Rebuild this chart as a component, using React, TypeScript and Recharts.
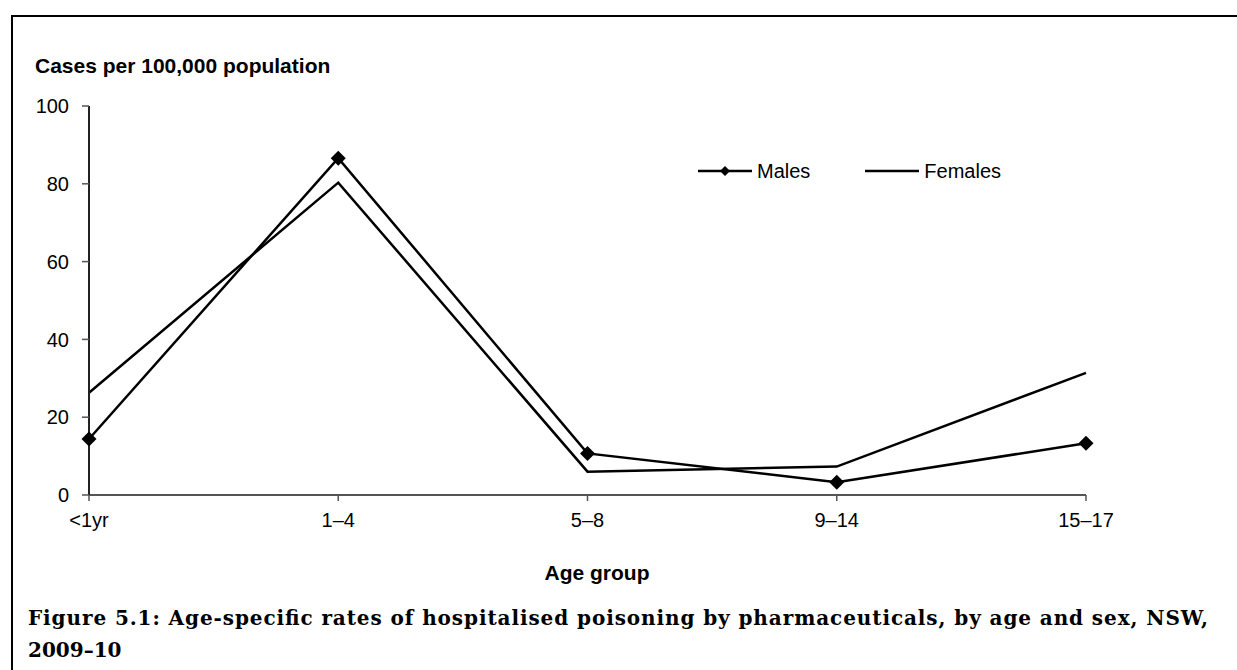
import React from "react";
import { LineChart, Line, XAxis, YAxis, Legend } from "recharts";

const categories = ["<1yr", "1–4", "5–8", "9–14", "15–17"];
const males = [14.4, 86.6, 10.7, 3.3, 13.3];
const females = [26.3, 80.3, 6.0, 7.3, 31.4];
const yTicks = [0, 20, 40, 60, 80, 100];

const data = categories.map((c, i) => ({ age: c, Males: males[i], Females: females[i] }));

const SANS = '"Liberation Sans", Arial, sans-serif';
const SERIF = '"DejaVu Serif", "Liberation Serif", serif';

const Diamond = (props: any) => {
  const { cx, cy } = props;
  if (cx == null || cy == null) return null;
  const r = 7.5;
  return (
    <polygon
      points={`${cx},${cy - r} ${cx + r},${cy} ${cx},${cy + r} ${cx - r},${cy}`}
      fill="#000"
      stroke="none"
    />
  );
};

const LegendContent = () => (
  <div style={{ display: "flex", alignItems: "center", fontFamily: SANS, fontSize: 20, color: "#000", whiteSpace: "nowrap" }}>
    <svg width={54} height={20} style={{ display: "block" }}>
      <line x1={0} y1={10} x2={54} y2={10} stroke="#000" strokeWidth={2.5} />
      <polygon points="27,5 32,10 27,15 22,10" fill="#000" />
    </svg>
    <span style={{ marginLeft: 5, lineHeight: "24px" }}>Males</span>
    <svg width={54} height={20} style={{ display: "block", marginLeft: 55 }}>
      <line x1={0} y1={10} x2={54} y2={10} stroke="#000" strokeWidth={2.5} />
    </svg>
    <span style={{ marginLeft: 5, lineHeight: "24px" }}>Females</span>
  </div>
);

export default function App() {
  return (
    <div style={{ position: "absolute", left: 0, top: 0, width: 1237, height: 670, overflow: "hidden", background: "#fff" }}>
      <div
        style={{
          position: "absolute",
          left: 11,
          top: 15,
          width: 1400,
          height: 800,
          borderLeft: "2px solid #000",
          borderTop: "2px solid #000",
        }}
      />
      <div style={{ position: "absolute", left: 0, top: 0 }}>
        <LineChart
          width={1237}
          height={670}
          data={data}
          margin={{ top: 106, right: 151, bottom: 115, left: 9 }}
        >
          <XAxis
            dataKey="age"
            height={60}
            stroke="#555"
            strokeWidth={2}
            tickSize={6}
            tickMargin={12}
            tick={{ fill: "#000", fontSize: 20, fontFamily: SANS }}
            tickLine={{ stroke: "#555", strokeWidth: 1.5 }}
            interval={0}
          />
          <YAxis
            width={80}
            domain={[0, 100]}
            ticks={yTicks}
            stroke="#222"
            strokeWidth={2}
            tickSize={7}
            tickMargin={13}
            tick={{ fill: "#000", fontSize: 20, fontFamily: SANS }}
            tickLine={{ stroke: "#555", strokeWidth: 1.5 }}
            interval={0}
          />
          <Legend
            layout="horizontal"
            verticalAlign="middle"
            align="center"
            content={<LegendContent />}
            wrapperStyle={{ position: "absolute", left: 698, top: 159, width: "auto" }}
          />
          <Line
            type="linear"
            dataKey="Females"
            stroke="#000"
            strokeWidth={2.5}
            dot={false}
            activeDot={false}
            isAnimationActive={false}
          />
          <Line
            type="linear"
            dataKey="Males"
            stroke="#000"
            strokeWidth={2.5}
            dot={<Diamond />}
            activeDot={false}
            isAnimationActive={false}
          />
        </LineChart>
      </div>
      <svg
        width={1237}
        height={670}
        style={{ position: "absolute", left: 0, top: 0, pointerEvents: "none" }}
      >
        <text x={35} y={72.5} fontFamily={SANS} fontSize={21} fontWeight="bold" fill="#000">
          Cases per 100,000 population
        </text>
        <text x={597} y={580} textAnchor="middle" fontFamily={SANS} fontSize={21} fontWeight="bold" fill="#000">
          Age group
        </text>
        <text x={28} y={625} fontFamily={SERIF} fontSize={20} fontWeight="bold" fill="#000" textLength={1180} lengthAdjust="spacing">
          Figure 5.1: Age-specific rates of hospitalised poisoning by pharmaceuticals, by age and sex, NSW,
        </text>
        <text x={28} y={657} fontFamily={SERIF} fontSize={20} fontWeight="bold" fill="#000">
          2009–10
        </text>
      </svg>
    </div>
  );
}
